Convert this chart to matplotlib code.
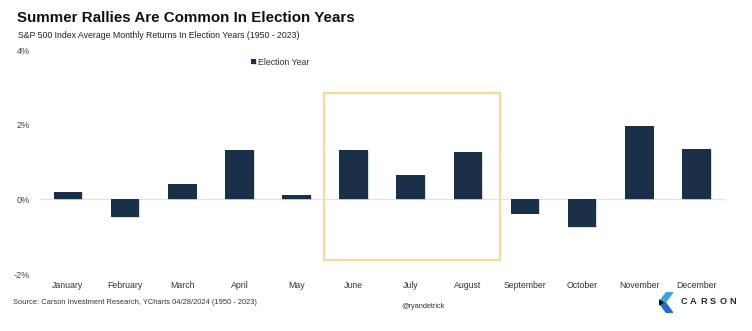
import numpy as np
import matplotlib.pyplot as plt
import matplotlib.patheffects as pe
from matplotlib.patches import Rectangle, Polygon

plt.rcParams['font.family'] = ['Liberation Sans', 'DejaVu Sans']

months = ['January', 'February', 'March', 'April', 'May', 'June',
          'July', 'August', 'September', 'October', 'November', 'December']
returns = [0.19, -0.47, 0.41, 1.31, 0.11, 1.32,
           0.65, 1.27, -0.38, -0.75, 1.96, 1.34]
yticks = [-2, 0, 2, 4]
ytick_labels = ['-2%', '0%', '2%', '4%']
summer = ['June', 'July', 'August']

bar_color = '#1a3049'

fig = plt.figure(figsize=(7.52, 3.31), dpi=100)
ax = fig.add_axes([40 / 752, 1 - 274 / 331, 685 / 752, 224 / 331])

x = np.arange(len(months))
bars = ax.bar(x, returns, width=0.5, color=bar_color, label='Election Year', zorder=3)
for b in bars:
    b.set_path_effects([pe.SimplePatchShadow(offset=(0.6, -0.6), alpha=0.15), pe.Normal()])

ax.axhline(0, color='#e3e3e3', lw=0.9, zorder=1)

# box around the summer months
i0, i1 = months.index(summer[0]), months.index(summer[-1])
ax.add_patch(Rectangle((i0 - 0.52, -1.63), (i1 - i0) + 1.08, 4.48,
                       fill=False, ec='#f3dc94', lw=1.6, zorder=2))

ax.set_xlim(-0.49, 11.5)
ax.set_ylim(-2, 4)
ax.set_xticks(x)
ax.set_xticklabels(months, fontsize=6.3, color='#333333')
ax.set_yticks(yticks)
ax.set_yticklabels(ytick_labels, fontsize=6.6, color='#444444')
ax.tick_params(axis='both', length=0)
ax.tick_params(axis='y', pad=7)
ax.tick_params(axis='x', pad=5)
for s in ax.spines.values():
    s.set_visible(False)

leg = ax.legend(loc='center left', bbox_to_anchor=(0.308, 0.946), frameon=False,
                fontsize=6.3, handlelength=0.55, handleheight=0.55, handletextpad=0.3,
                borderpad=0, borderaxespad=0)
for t in leg.get_texts():
    t.set_color('#333333')

fig.text(17 / 752, 1 - 18 / 331, 'Summer Rallies Are Common In Election Years',
         fontsize=10.9, fontweight='bold', color='#111111', va='center')
fig.text(18 / 752, 1 - 36 / 331, 'S&P 500 Index Average Monthly Returns In Election Years (1950 - 2023)',
         fontsize=6.3, color='#222222', va='center')
fig.text(13 / 752, 1 - 303 / 331, 'Source: Carson Investment Research, YCharts 04/28/2024 (1950 - 2023)',
         fontsize=5.45, color='#333333', va='center')
fig.text(423 / 752, 1 - 306 / 331, '@ryandetrick', fontsize=5.3, color='#333333',
         va='center', ha='center')

# Carson logo
lax = fig.add_axes([659 / 752, 1 - 313 / 331, 14 / 752, 21 / 331])
lax.set_xlim(0, 1)
lax.set_ylim(0, 1)
lax.axis('off')
lax.add_patch(Polygon([(0.55, 1), (1, 1), (0.45, 0.5), (0, 0.5)], closed=True, color='#3aa6e0'))
lax.add_patch(Polygon([(0, 0.5), (0.45, 0.5), (1, 0), (0.55, 0)], closed=True, color='#1f6fc0'))
lax.add_patch(Polygon([(0, 0.62), (0.3, 0.5), (0, 0.38)], closed=True, color='#111111'))
for k, ch in enumerate('CARSON'):
    fig.text((683.5 + k * 9.9) / 752, 1 - 302 / 331, ch, fontsize=6.6, fontweight='bold',
             color='#1e2a3a', va='center', ha='center')

fig.savefig('out.png', dpi=100)
